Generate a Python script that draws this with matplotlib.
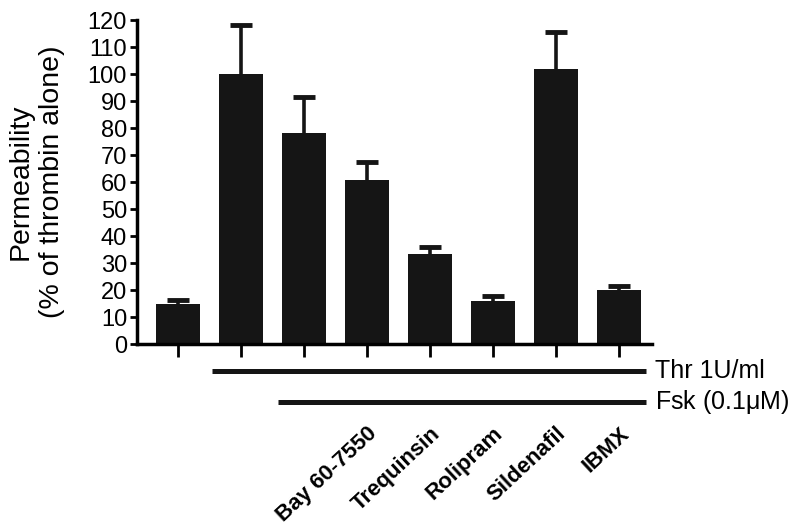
import numpy as np
import matplotlib.pyplot as plt

plt.rcParams['font.family'] = ['Liberation Sans', 'DejaVu Sans']

means = [14.8, 100, 78.3, 60.6, 33.3, 15.9, 102, 19.9]
err_top = [16.3, 118, 91.4, 67.6, 36.0, 17.7, 115.4, 21.6]
drug_labels = ['Bay 60-7550', 'Trequinsin', 'Rolipram', 'Sildenafil', 'IBMX']
yticks = list(range(0, 121, 10))

x = np.arange(len(means))
errs = np.array(err_top) - np.array(means)

fig = plt.figure(figsize=(8, 5.27), dpi=100)
ax = fig.add_axes([0.171, 0.347, 0.644, 0.615])
col = '#151515'

# error bars behind the bars so only the upper half shows
ax.errorbar(x, means, yerr=errs, fmt='none', ecolor=col,
            elinewidth=2.6, capsize=8, capthick=3.5, zorder=1)
ax.bar(x, means, width=0.70, color=col, zorder=2)

ax.set_xlim(-0.65, 7.52)
ax.set_ylim(0, 120)
ax.set_yticks(yticks)
ax.set_xticks(x)
ax.set_xticklabels([])
ax.tick_params(axis='y', labelsize=17, width=2, length=5, direction='out', pad=2)
ax.tick_params(axis='x', width=2, length=9, direction='out')
for s in ['top', 'right']:
    ax.spines[s].set_visible(False)
for s in ['left', 'bottom']:
    ax.spines[s].set_linewidth(2.5)

ax.set_ylabel('Permeability\n(% of thrombin alone)', fontsize=20.5, linespacing=1.3, labelpad=16)

# treatment bars below the axis
ax.plot([0.55, 7.43], [-10.0, -10.0], color=col, lw=3.6, clip_on=False, solid_capstyle='butt')
ax.plot([1.59, 7.43], [-21.6, -21.6], color=col, lw=3.6, clip_on=False, solid_capstyle='butt')
ax.text(7.56, -10.0, 'Thr 1U/ml', fontsize=18, va='center', ha='left')
ax.text(7.56, -21.6, 'Fsk (0.1$\\mathregular{\\mu}$M)', fontsize=18, va='center', ha='left')

for i, lab in enumerate(drug_labels):
    ax.text(x[i + 3] + 0.11, -32.0, lab, fontsize=16, fontweight='bold', rotation=43,
            rotation_mode='anchor', ha='right', va='center')

fig.savefig('out.png', dpi=100)
